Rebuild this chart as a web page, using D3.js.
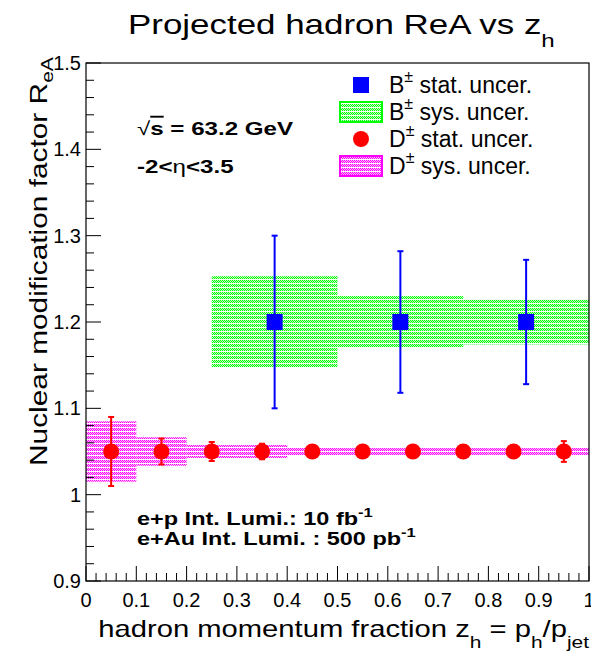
<!DOCTYPE html>
<html><head><meta charset="utf-8">
<script src="https://cdn.jsdelivr.net/npm/d3@7"></script>
<style>body{margin:0;background:#fff}svg{display:block}text{font-family:"Liberation Sans",Arial,Helvetica,sans-serif}</style>
</head><body><svg id="c" width="591" height="658"></svg>
<script>
// ---- data ----
const bX = [0.375, 0.625, 0.875];
const bY = [1.2, 1.2, 1.2];
const bStat = [0.100, 0.082, 0.072];
const bSys = [0.053, 0.030, 0.026];
const bLo = [0.25, 0.5, 0.75];
const bHi = [0.5, 0.75, 1.0];

const dX = [0.05, 0.15, 0.25, 0.35, 0.45, 0.55, 0.65, 0.75, 0.85, 0.95];
const dY = [1.05, 1.05, 1.05, 1.05, 1.05, 1.05, 1.05, 1.05, 1.05, 1.05];
const dStat = [0.040, 0.015, 0.011, 0.009, 0.004, 0.004, 0.004, 0.004, 0.004, 0.012];
const dSys = [0.035, 0.0165, 0.0075, 0.0075, 0.005, 0.004, 0.004, 0.004, 0.004, 0.005];
const dLo = [0.0, 0.1, 0.2, 0.3, 0.4, 0.5, 0.6, 0.7, 0.8, 0.9];
const dHi = [0.1, 0.2, 0.3, 0.4, 0.5, 0.6, 0.7, 0.8, 0.9, 1.0];

const xTicks = [0, 0.1, 0.2, 0.3, 0.4, 0.5, 0.6, 0.7, 0.8, 0.9, 1];
const xTickLabels = ["0", "0.1", "0.2", "0.3", "0.4", "0.5", "0.6", "0.7", "0.8", "0.9", "1"];
const yTicks = [0.9, 1.0, 1.1, 1.2, 1.3, 1.4, 1.5];
const yTickLabels = ["0.9", "1", "1.1", "1.2", "1.3", "1.4", "1.5"];

const legendItems = [
  {sym: "B", text: " stat. uncer.", type: "square", color: "#0000ff"},
  {sym: "B", text: " sys. uncer.", type: "box", color: "#00ff00", pat: "patG"},
  {sym: "D", text: " stat. uncer.", type: "circle", color: "#ff0000"},
  {sym: "D", text: " sys. uncer.", type: "box", color: "#ff00ff", pat: "patM"}
];

// ---- layout ----
const L = 86, R = 589, T = 63, B = 581;
const SX = 1.27; // horizontal stretch of the reference's latex texts
const x = d3.scaleLinear().domain([0, 1]).range([L, R]);
const y = d3.scaleLinear().domain([0.9, 1.5]).range([B, T]);
const svg = d3.select("#c");

// patterns
const defs = svg.append("defs");
function makePattern(id, col) {
  const p = defs.append("pattern").attr("id", id).attr("patternUnits", "userSpaceOnUse")
    .attr("width", 4).attr("height", 4);
  p.append("rect").attr("width", 4).attr("height", 4).attr("fill", "#fff");
  [[0,0],[2,0],[1,1],[3,1],[0,2],[2,2]].forEach(([a,b]) => p.append("rect").attr("x", a).attr("y", b)
    .attr("width", 1).attr("height", 1).attr("fill", col));
  [[1,0],[3,0],[0,1],[2,1],[1,2],[3,2]].forEach(([a,b]) => p.append("rect").attr("x", a).attr("y", b)
    .attr("width", 1).attr("height", 1).attr("fill", col).attr("opacity", 0.28));
}
makePattern("patG", "#00ff00");
makePattern("patM", "#ff00ff");

// sys boxes
const gSys = svg.append("g");
bX.forEach((v, i) => {
  gSys.append("rect").attr("x", x(bLo[i])).attr("width", x(bHi[i]) - x(bLo[i]))
    .attr("y", y(bY[i] + bSys[i])).attr("height", y(bY[i] - bSys[i]) - y(bY[i] + bSys[i]))
    .attr("fill", "url(#patG)");
});
dX.forEach((v, i) => {
  gSys.append("rect").attr("x", x(dLo[i])).attr("width", x(dHi[i]) - x(dLo[i]))
    .attr("y", y(dY[i] + dSys[i])).attr("height", y(dY[i] - dSys[i]) - y(dY[i] + dSys[i]))
    .attr("fill", "url(#patM)");
});

// stat error bars
function errBars(xs, ys, es, col, w) {
  const g = svg.append("g").attr("stroke", col).attr("stroke-width", w);
  xs.forEach((v, i) => {
    const cx = x(v), y1 = y(ys[i] + es[i]), y2 = y(ys[i] - es[i]);
    g.append("line").attr("x1", cx).attr("x2", cx).attr("y1", y1).attr("y2", y2);
    g.append("line").attr("x1", cx - 3).attr("x2", cx + 3).attr("y1", y1).attr("y2", y1);
    g.append("line").attr("x1", cx - 3).attr("x2", cx + 3).attr("y1", y2).attr("y2", y2);
  });
}
errBars(bX, bY, bStat, "#0000ff", 2);
errBars(dX, dY, dStat, "#ff0000", 2);

// markers
svg.append("g").selectAll("rect").data(bX).join("rect")
  .attr("x", (d) => x(d) - 8).attr("y", (d, i) => y(bY[i]) - 8)
  .attr("width", 16).attr("height", 16).attr("fill", "#0000ff");
svg.append("g").selectAll("circle").data(dX).join("circle")
  .attr("cx", (d) => x(d)).attr("cy", (d, i) => y(dY[i])).attr("r", 8).attr("fill", "#ff0000");

// frame
svg.append("rect").attr("x", L).attr("y", T).attr("width", R - L).attr("height", B - T)
  .attr("fill", "none").attr("stroke", "#000").attr("stroke-width", 1.2);

// axes ticks (inside)
const gx = svg.append("g");
for (let k = 0; k <= 50; k++) {
  const v = k / 50, major = k % 5 === 0;
  gx.append("line").attr("x1", x(v)).attr("x2", x(v)).attr("y1", B).attr("y2", B - (major ? 15 : 8))
    .attr("stroke", "#000").attr("stroke-width", 1);
}
xTicks.forEach((v, i) => gx.append("text").attr("x", x(v)).attr("y", 607).attr("text-anchor", "middle")
  .attr("font-size", 20).text(xTickLabels[i]));
const gy = svg.append("g");
for (let k = 0; k <= 30; k++) {
  const v = 0.9 + k * 0.02, major = k % 5 === 0;
  gy.append("line").attr("x1", L).attr("x2", L + (major ? 15 : 8)).attr("y1", y(v)).attr("y2", y(v))
    .attr("stroke", "#000").attr("stroke-width", 1);
}
yTicks.forEach((v, i) => gy.append("text").attr("x", 81).attr("y", y(v) + 7).attr("text-anchor", "end")
  .attr("font-size", 20).text(yTickLabels[i]));

// helper: stretched text group
function stext(tx, ty, rot, size, anchor) {
  const g = svg.append("g").attr("transform", `translate(${tx},${ty}) rotate(${rot}) scale(${SX},1)`);
  return g.append("text").attr("font-size", size).attr("text-anchor", anchor || "start");
}

// title
const t = stext(128, 34, 0, 27.5);
t.append("tspan").text("Projected hadron ReA vs z");
t.append("tspan").attr("font-size", 19).attr("dy", 13).text("h");

// y axis title
const yt = stext(47, 466, -90, 23.5);
yt.append("tspan").text("Nuclear modification factor R");
yt.append("tspan").attr("font-size", 16.5).attr("dy", 6).text("eA");

// x axis title
const xt = stext(589, 637, 0, 23, "end");
xt.append("tspan").text("hadron momentum fraction z");
xt.append("tspan").attr("font-size", 16.5).attr("dy", 11).text("h");
xt.append("tspan").attr("dy", -11).text(" = p");
xt.append("tspan").attr("font-size", 16.5).attr("dy", 11).text("h");
xt.append("tspan").attr("dy", -11).text("/p");
xt.append("tspan").attr("font-size", 16.5).attr("dy", 11).text("jet");

// annotations
const a1 = stext(137, 135, 0, 19).attr("font-weight", "bold");
a1.append("tspan").attr("font-weight", "normal").text("\u221A");
a1.append("tspan").attr("text-decoration", "overline").text("s");
a1.append("tspan").text(" = 63.2 GeV");
const a2 = stext(137, 173, 0, 19).attr("font-weight", "bold");
a2.append("tspan").text("-2<");
a2.append("tspan").attr("font-weight", "normal").text("\u03B7");
a2.append("tspan").text("<3.5");
const a3 = stext(137, 525, 0, 18.5).attr("font-weight", "bold");
a3.append("tspan").text("e+p Int. Lumi.: 10 fb");
a3.append("tspan").attr("font-size", 13).attr("dy", -8).text("-1");
const a4 = stext(137, 545, 0, 18.5).attr("font-weight", "bold");
a4.append("tspan").text("e+Au Int. Lumi. : 500 pb");
a4.append("tspan").attr("font-size", 13).attr("dy", -8).text("-1");

// legend
const rowY = [85, 112, 139, 166];
legendItems.forEach((it, i) => {
  const cy = rowY[i];
  if (it.type === "square") svg.append("rect").attr("x", 353).attr("y", cy - 8).attr("width", 16).attr("height", 16).attr("fill", it.color);
  else if (it.type === "circle") svg.append("circle").attr("cx", 361).attr("cy", cy).attr("r", 8).attr("fill", it.color);
  else svg.append("rect").attr("x", 340).attr("y", cy - 10).attr("width", 42).attr("height", 20)
    .attr("fill", "url(#" + it.pat + ")").attr("stroke", it.color).attr("stroke-width", 2);
  const tx = svg.append("text").attr("x", 389).attr("y", cy + 8).attr("font-size", 23);
  tx.append("tspan").text(it.sym);
  tx.append("tspan").attr("font-size", 16).attr("dy", -11).text("\u00B1");
  tx.append("tspan").attr("dy", 11).text(it.text);
});
</script></body></html>
